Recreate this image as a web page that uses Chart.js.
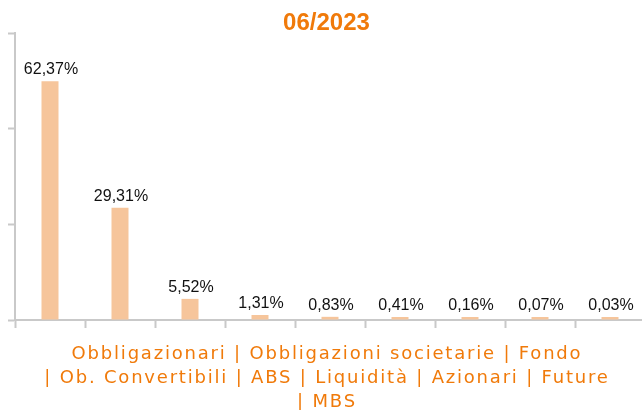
<!DOCTYPE html>
<html>
<head>
<meta charset="utf-8">
<script src="https://cdn.jsdelivr.net/npm/chart.js@4"></script>
<style>
  html, body { margin: 0; padding: 0; background: #fff; overflow: hidden; }
  #wrap { width: 650px; height: 410px; position: relative; }
</style>
</head>
<body>
<div id="wrap"><canvas id="c"></canvas></div>
<script>
const chartTitle = '06/2023';
const categories = ['Obbligazionari', 'Obbligazioni societarie', 'Fondo', 'Ob. Convertibili', 'ABS', 'Liquidità', 'Azionari', 'Future', 'MBS'];
const values = [62.37, 29.31, 5.52, 1.31, 0.83, 0.41, 0.16, 0.07, 0.03];
const axisTitleLines = [
  'Obbligazionari | Obbligazioni societarie | Fondo',
  '| Ob. Convertibili | ABS | Liquidità | Azionari | Future',
  '| MBS'
];
const yTicks = [0, 25, 50, 75];

const ORANGE = '#f07a0a';
const BAR = '#f6c59b';
const AXIS = '#c9c9c9';

const valueLabels = {
  id: 'valueLabels',
  afterDatasetsDraw(chart) {
    const ctx = chart.ctx;
    const meta = chart.getDatasetMeta(0);
    ctx.save();
    ctx.font = '16px "Liberation Sans", Arial, sans-serif';
    ctx.fillStyle = '#111';
    ctx.textAlign = 'center';
    ctx.textBaseline = 'alphabetic';
    meta.data.forEach((bar, i) => {
      const txt = values[i].toFixed(2).replace('.', ',') + '%';
      ctx.fillText(txt, bar.x + 1, bar.y - 7);
    });
    ctx.restore();
  }
};

const spacedTitle = {
  id: 'spacedTitle',
  afterLayout(chart) {
    const sc = chart.scales.x;
    if (sc._spacedWrapped) return;
    const orig = sc.drawTitle;
    sc.drawTitle = function(area) {
      const ctx = this.ctx;
      ctx.save();
      ctx.letterSpacing = '1.8px';
      ctx.translate(-3, 0);
      orig.call(this, area);
      ctx.restore();
    };
    sc._spacedWrapped = true;
  }
};

new Chart(document.getElementById('c'), {
  type: 'bar',
  data: {
    labels: categories,
    datasets: [{
      data: values,
      backgroundColor: BAR,
      borderWidth: 0,
      categoryPercentage: 1,
      barPercentage: 0.243,
      minBarLength: 3
    }]
  },
  options: {
    responsive: true,
    maintainAspectRatio: false,
    animation: false,
    layout: { padding: { left: 8, right: 5, top: 0, bottom: 0 } },
    plugins: {
      legend: { display: false },
      tooltip: { enabled: false },
      title: {
        display: true,
        text: chartTitle,
        color: ORANGE,
        font: { family: '"Liberation Sans", Arial, sans-serif', size: 24, weight: 'bold', lineHeight: 1 },
        padding: { top: 11.5, bottom: -2.5 }
      }
    },
    scales: {
      x: {
        offset: true,
        grid: {
          offset: true,
          drawOnChartArea: false,
          drawTicks: true,
          tickLength: 8,
          tickColor: AXIS,
          tickWidth: 2
        },
        border: { display: true, color: AXIS, width: 2 },
        ticks: { display: false },
        title: {
          display: true,
          text: axisTitleLines,
          color: ORANGE,
          font: { family: '"DejaVu Sans", Verdana, sans-serif', size: 18, lineHeight: 1.3333 },
          padding: { top: 14.5, bottom: -4.5 }
        }
      },
      y: {
        min: yTicks[0],
        max: yTicks[yTicks.length - 1],
        afterBuildTicks(scale) { scale.ticks = yTicks.map(v => ({ value: v })); },
        grid: {
          drawOnChartArea: false,
          drawTicks: true,
          tickLength: 7,
          tickColor: AXIS,
          tickWidth: 2
        },
        border: { display: true, color: AXIS, width: 2 },
        ticks: { display: false }
      }
    }
  },
  plugins: [valueLabels, spacedTitle]
});
</script>
</body>
</html>
